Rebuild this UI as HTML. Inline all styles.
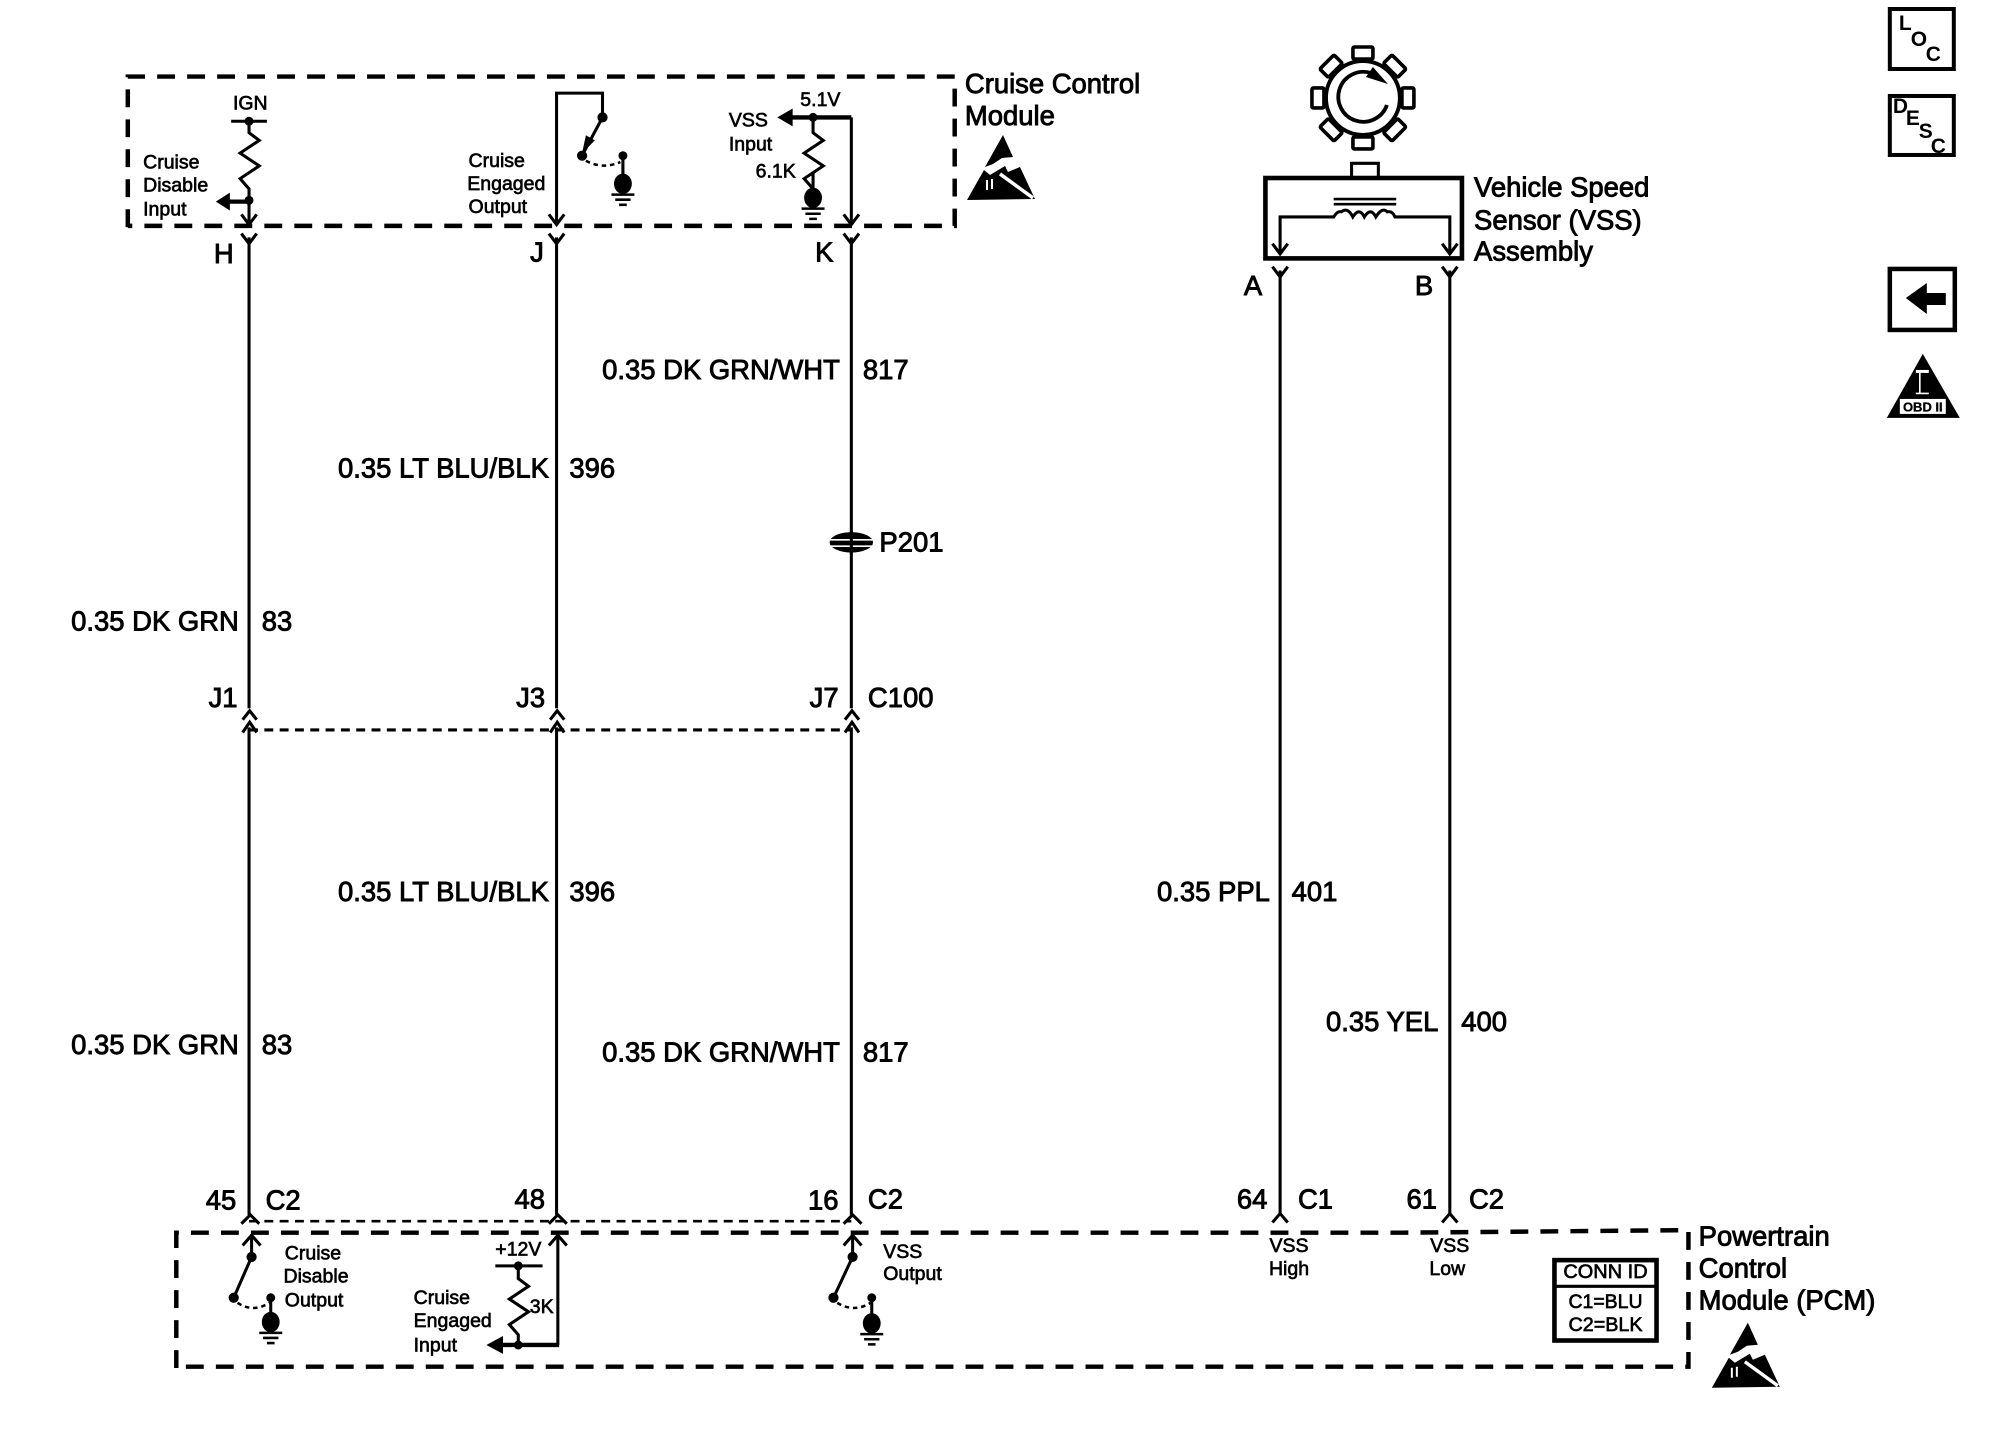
<!DOCTYPE html>
<html><head><meta charset="utf-8"><style>
html,body{margin:0;padding:0;background:#fff}
svg{display:block}
text{font-family:"Liberation Sans",sans-serif;fill:#000}
.l{font-size:21.5px;stroke:#000;stroke-width:.7}
.s{font-size:15.3px;stroke:#000;stroke-width:.5}
.e{text-anchor:end}.m{text-anchor:middle}
.w{fill:none;stroke:#000;stroke-width:2.4}
.b{fill:none;stroke:#000;stroke-width:3.4}
.d{fill:none;stroke:#000;stroke-width:3.5;stroke-dasharray:14 9.500}
.i{font-size:21px;font-weight:bold}
</style></head><body>
<svg width="2000" height="1456" viewBox="0 0 1567 1141" xmlns="http://www.w3.org/2000/svg">
<defs>
<g id="gnd"><path d="M0 -24V-8" stroke="#000" stroke-width="2.400" fill="none"/><ellipse cx="0" cy="-4" rx="7" ry="8"/><path d="M-9 4.500H9M-6 8.500H6M-3 12.500H3" stroke="#000" stroke-width="2" fill="none"/></g>
<g id="esd">
<path d="M43 15L53 37L42 38L33 44L25 47Z"/>
<path d="M7 80L24 50L30 55L45 46L48 52L60 47L75 79Z"/>
<path d="M40 54L73 78" stroke="#fff" stroke-width="3.500" fill="none"/>
<path d="M27 60V70M32 59V69" stroke="#fff" stroke-width="2" fill="none"/>
</g>
<g id="tooth"><rect x="-10" y="-51" width="20" height="12" rx="1.500" fill="#fff" stroke="#000" stroke-width="3.600"/></g>
</defs>

<!-- module boxes -->
<path class="d" d="M100 178V60H748V177H100"/>
<path class="d" d="M138 1072V966H1100L1323 964V1071H138"/>
<path d="M195 957H667" fill="none" stroke="#000" stroke-width="2" stroke-dasharray="7 5"/>
<path d="M195 572H667" fill="none" stroke="#000" stroke-width="2.400" stroke-dasharray="7 5"/>

<!-- wires -->
<path class="w" d="M195 186V555M195 570V952M436 186V555M436 570V952M667 186V555M667 570V952M1003 212V952M1136 212V952"/>
<path class="w" d="M189 183L195 191L201 183M430 183L436 191L442 183M661 183L667 191L673 183M997 209L1003 217L1009 209M1130 209L1136 217L1142 209"/>
<path class="w" d="M189 168L195 176L201 168M430 168L436 176L442 168M661 168L667 176L673 168"/>
<path class="w" d="M190 564L195.500 557L201 564M190 574L195.500 566L201 574M431 564L436.500 557L442 564M431 574L436.500 566L442 574M662 564L667.500 557L673 564M662 574L667.500 566L673 574"/>
<path class="w" d="M189 959L196 952L203 959M430 959L437 952L444 959M661 959L668 952L675 959M997 958L1003 951L1009 958M1130 958L1136 951L1142 958"/>
<!-- P201 -->
<ellipse cx="667" cy="425" rx="17" ry="8"/><path d="M648 423H686M650 428H684" stroke="#fff" stroke-width="1.300"/><path d="M667 416V434" stroke="#000" stroke-width="2.400"/>

<!-- cruise: IGN -->
<path d="M181 95H209" stroke="#000" stroke-width="2.400"/>
<circle cx="195" cy="95" r="3.500"/>
<path class="w" d="M195 95V104L203 110L188 120L203 130L188 140L195 148V176"/>
<circle cx="195" cy="157" r="3.500"/>
<path class="b" d="M195 158H176"/><path d="M169 158L180 151V165Z"/>
<!-- cruise: switch J -->
<path class="w" d="M436 176V73H472V91"/>
<circle cx="472" cy="92" r="4"/><circle cx="456" cy="122" r="4"/><circle cx="488" cy="122" r="3.500"/>
<path class="w" d="M472 92L457 120" stroke-width="3"/><path d="M456 120L459 106L466 110Z"/>
<path d="M459 126Q472 133 486 127" fill="none" stroke="#000" stroke-width="2" stroke-dasharray="3.500 3"/>
<use href="#gnd" x="488" y="148"/>
<!-- cruise: VSS -->
<path class="b" d="M620 92H667"/><path d="M609 92L621 85V99Z"/>
<circle cx="637" cy="92" r="3.500"/>
<path class="w" d="M667 92V176"/>
<path class="w" d="M637 92V104L645 110L630 120L645 130L630 140L637 148V156"/>
<use href="#gnd" x="637" y="159"/>

<!-- sensor -->
<rect x="991.500" y="139.500" width="154" height="63" fill="none" stroke="#000" stroke-width="3.600"/>
<path class="w" d="M1059 139V128H1080V139"/>
<path d="M1045 156H1094M1045 160H1094" stroke="#000" stroke-width="2" fill="none"/>
<path class="w" d="M1003 198V170H1045Q1048 165 1051 166Q1056 162 1060 170Q1065 162 1069 170Q1074 162 1078 170Q1083 162 1087 166Q1091 165 1093 170H1136V198"/>
<path class="w" d="M997 191L1003 199L1009 191M1130 191L1136 199L1142 191"/>

<!-- PCM: disable -->
<path class="w" d="M197 968V985"/><path class="w" d="M197 985L183 1017" stroke-width="3"/><path class="w" d="M190 976L197 968L204 976"/>
<circle cx="197" cy="985" r="4"/><circle cx="183" cy="1017" r="4"/><circle cx="212" cy="1017" r="3.500"/>
<path d="M186 1021Q198 1029 211 1021" fill="none" stroke="#000" stroke-width="2" stroke-dasharray="3.500 3"/>
<use href="#gnd" x="212" y="1040"/>
<!-- PCM: engaged -->
<path class="w" d="M437 968V1054"/><path class="w" d="M430 976L437 968L444 976"/>
<path class="b" d="M392 1054H438"/><path d="M381 1054L394 1047V1061Z"/>
<path d="M388 992H425" stroke="#000" stroke-width="2.400"/><circle cx="406" cy="992" r="3.500"/>
<path class="w" d="M406 992V1002L414 1008L399 1018L414 1028L399 1038L406 1046V1054"/>
<circle cx="406" cy="1054" r="3.500"/>
<!-- PCM: VSS output -->
<path class="w" d="M668 968V985"/><path class="w" d="M668 985L653 1017" stroke-width="3"/><path class="w" d="M661 976L668 968L675 976"/>
<circle cx="668" cy="985" r="4"/><circle cx="653" cy="1017" r="4"/><circle cx="683" cy="1017" r="3.500"/>
<path d="M656 1021Q669 1029 682 1021" fill="none" stroke="#000" stroke-width="2" stroke-dasharray="3.500 3"/>
<use href="#gnd" x="683" y="1041"/>

<!-- conn id -->
<rect x="1218" y="987.500" width="80" height="63" fill="none" stroke="#000" stroke-width="3.600"/>
<path d="M1218 1008H1298" stroke="#000" stroke-width="2.400"/>

<!-- symbols in original pixel coords -->
<g transform="scale(.7835)">
<g transform="translate(1363 98)">
<use href="#tooth"/><use href="#tooth" transform="rotate(45)"/><use href="#tooth" transform="rotate(90)"/><use href="#tooth" transform="rotate(135)"/><use href="#tooth" transform="rotate(180)"/><use href="#tooth" transform="rotate(225)"/><use href="#tooth" transform="rotate(270)"/><use href="#tooth" transform="rotate(315)"/>
<circle r="37" fill="#fff" stroke="#000" stroke-width="4"/>
<path d="M8 -25A25 25 0 1 0 24 7" fill="none" stroke="#000" stroke-width="3.800"/>
<path d="M10 -31L25 -14L3 -21Z"/>
</g>
<rect x="1890" y="9" width="64" height="60" fill="none" stroke="#000" stroke-width="4"/>
<text x="1899" y="30" class="i">L</text>
<text x="1911" y="46" class="i">O</text>
<text x="1926" y="61" class="i">C</text>
<rect x="1890" y="96" width="64" height="59" fill="none" stroke="#000" stroke-width="4"/>
<text x="1893" y="113" class="i">D</text>
<text x="1906" y="125" class="i">E</text>
<text x="1919" y="138" class="i">S</text>
<text x="1931" y="153" class="i">C</text>
<rect x="1890" y="269" width="65" height="61" fill="none" stroke="#000" stroke-width="4.500"/>
<path d="M1906 298L1927 283V293H1946V305H1927V314Z"/>
<path d="M1923 354L1960 418H1887Z"/>
<rect x="1900" y="399" width="46" height="15" fill="#fff"/>
<path d="M1916 371.500H1929" stroke="#fff" stroke-width="3"/><path d="M1920 373V393M1916 393.500H1929" stroke="#fff" stroke-width="1.600"/>
<text x="1923" y="411.500" class="m" style="font-size:13px;font-weight:bold" stroke="#000" stroke-width=".3">OBD II</text>
<use href="#esd" x="960" y="120"/>
<use href="#esd" x="1705" y="1308"/>
</g>

<!-- small text -->
<text x="196" y="86" class="s m">IGN</text>
<text x="112" y="132" class="s">Cruise</text>
<text x="112" y="150" class="s">Disable</text>
<text x="112" y="169" class="s">Input</text>
<text x="367" y="131" class="s">Cruise</text>
<text x="366" y="149" class="s">Engaged</text>
<text x="367" y="167" class="s">Output</text>
<text x="571" y="99" class="s">VSS</text>
<text x="571" y="118" class="s">Input</text>
<text x="592" y="139" class="s">6.1K</text>
<text x="627" y="83" class="s">5.1V</text>
<text x="223" y="987" class="s">Cruise</text>
<text x="222" y="1005" class="s">Disable</text>
<text x="223" y="1024" class="s">Output</text>
<text x="388" y="984" class="s">+12V</text>
<text x="324" y="1022" class="s">Cruise</text>
<text x="324" y="1040" class="s">Engaged</text>
<text x="324" y="1059" class="s">Input</text>
<text x="415" y="1029" class="s">3K</text>
<text x="692" y="986" class="s">VSS</text>
<text x="692" y="1003" class="s">Output</text>
<text x="1010" y="981" class="s m">VSS</text>
<text x="1010" y="999" class="s m">High</text>
<text x="1136" y="981" class="s m">VSS</text>
<text x="1134" y="999" class="s m">Low</text>
<text x="1258" y="1001.500" class="s m" textLength="66" lengthAdjust="spacingAndGlyphs">CONN ID</text>
<text x="1258" y="1025" class="s m" textLength="58" lengthAdjust="spacingAndGlyphs">C1=BLU</text>
<text x="1258" y="1043" class="s m" textLength="58" lengthAdjust="spacingAndGlyphs">C2=BLK</text>

<!-- large text -->
<text x="756" y="73" class="l">Cruise Control</text>
<text x="756" y="98" class="l">Module</text>
<text x="1155" y="154" class="l">Vehicle Speed</text>
<text x="1155" y="180" class="l">Sensor (VSS)</text>
<text x="1155" y="204" class="l">Assembly</text>
<text x="1331" y="976" class="l">Powertrain</text>
<text x="1331" y="1001" class="l">Control</text>
<text x="1331" y="1026" class="l">Module (PCM)</text>

<text x="183" y="206" class="l e">H</text>
<text x="426" y="205" class="l e">J</text>
<text x="653" y="205" class="l e">K</text>
<text x="989" y="231" class="l e">A</text>
<text x="1123" y="231" class="l e">B</text>

<text x="658" y="297" class="l e">0.35 DK GRN/WHT</text><text x="676" y="297" class="l">817</text>
<text x="430" y="374" class="l e">0.35 LT BLU/BLK</text><text x="446" y="374" class="l">396</text>
<text x="689" y="432" class="l">P201</text>
<text x="187" y="494" class="l e">0.35 DK GRN</text><text x="205" y="494" class="l">83</text>
<text x="186" y="554" class="l e">J1</text>
<text x="427" y="554" class="l e">J3</text>
<text x="657" y="554" class="l e">J7</text>
<text x="680" y="554" class="l">C100</text>
<text x="430" y="706" class="l e">0.35 LT BLU/BLK</text><text x="446" y="706" class="l">396</text>
<text x="995" y="706" class="l e">0.35 PPL</text><text x="1012" y="706" class="l">401</text>
<text x="1127" y="808" class="l e">0.35 YEL</text><text x="1145" y="808" class="l">400</text>
<text x="187" y="826" class="l e">0.35 DK GRN</text><text x="205" y="826" class="l">83</text>
<text x="658" y="832" class="l e">0.35 DK GRN/WHT</text><text x="676" y="832" class="l">817</text>
<text x="185" y="948" class="l e">45</text><text x="208" y="948" class="l">C2</text>
<text x="427" y="947" class="l e">48</text>
<text x="657" y="948" class="l e">16</text><text x="680" y="947" class="l">C2</text>
<text x="993" y="947" class="l e">64</text><text x="1017" y="947" class="l">C1</text>
<text x="1126" y="947" class="l e">61</text><text x="1151" y="947" class="l">C2</text>
</svg>
</body></html>
